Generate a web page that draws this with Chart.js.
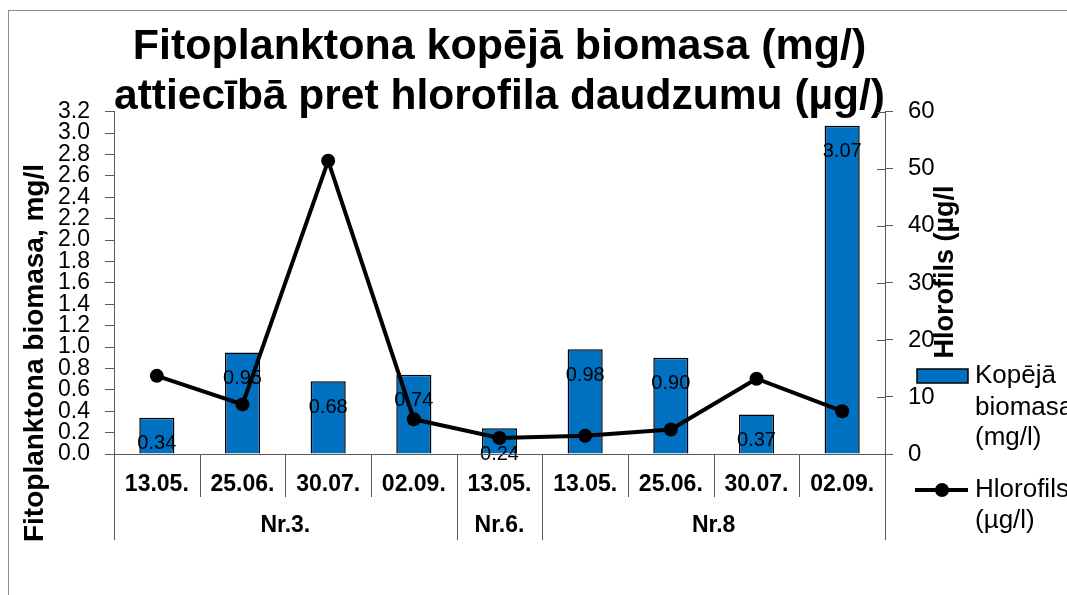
<!DOCTYPE html>
<html><head><meta charset="utf-8">
<script src="https://cdn.jsdelivr.net/npm/chart.js@4/dist/chart.umd.min.js"></script>
<style>html,body{margin:0;padding:0;background:#fff;overflow:hidden}#wrap{width:1067px;height:595px;position:relative}</style>
</head><body><div id="wrap"><canvas id="c"></canvas></div>
<script>
// ---- data ----
const dates = ['13.05.','25.06.','30.07.','02.09.','13.05.','13.05.','25.06.','30.07.','02.09.'];
const groups = ['Nr.3.','Nr.6.','Nr.8'];
const groupSizes = [4, 1, 4];
const biomass = [0.34, 0.95, 0.68, 0.74, 0.24, 0.98, 0.90, 0.37, 3.07];
const chlorophyll = [13.7, 8.7, 51.4, 6.1, 2.8, 3.2, 4.3, 13.2, 7.5];
const biomassLegend = ['Kopējā', 'biomasa', '(mg/l)'];
const chlLegend = ['Hlorofils', '(µg/l)'];
const titleLines = ['Fitoplanktona kopējā biomasa (mg/)', 'attiecībā pret hlorofila daudzumu (µg/)'];
const yLeftTitle = 'Fitoplanktona biomasa, mg/l';
const yRightTitle = 'Hlorofils (µg/l';

const FONT = "'Liberation Sans', Arial, sans-serif";
const BLUE = '#0070C0';
const AXIS = '#595959';

const decor = {
  id: 'decor',
  beforeDraw(chart) {
    const c = chart.ctx;
    c.save();
    c.fillStyle = '#fff';
    c.fillRect(0, 0, chart.width, chart.height);
    c.strokeStyle = '#8c8c8c';
    c.lineWidth = 1;
    c.strokeRect(8.5, 10.5, 1200, 700);
    c.restore();
  },
  afterDatasetDraw(chart, args) {
    if (args.index !== 1) return;
    const c = chart.ctx;
    const meta = chart.getDatasetMeta(1);
    c.save();
    c.font = '20px ' + FONT;
    c.fillStyle = '#000';
    c.textAlign = 'center';
    c.textBaseline = 'middle';
    meta.data.forEach((bar, i) => {
      c.fillText(biomass[i].toFixed(2), bar.x, bar.y + 26);
    });
    c.restore();
  },
  afterDraw(chart) {
    const c = chart.ctx;
    const x = chart.scales.x;
    const yL = chart.scales.y;
    const yR = chart.scales.y1;
    const base = yL.getPixelForValue(0);
    c.save();
    c.strokeStyle = AXIS;
    c.lineWidth = 1;
    // x baseline
    c.beginPath();
    c.moveTo(x.left - 8, Math.round(base) + 0.5);
    c.lineTo(x.right + 8, Math.round(base) + 0.5);
    c.stroke();
    // category separators
    const n = dates.length;
    const groupEdges = [0];
    groupSizes.reduce((a, s) => { groupEdges.push(a + s); return a + s; }, 0);
    for (let i = 0; i <= n; i++) {
      const px = Math.round(x.getPixelForValue(i - 0.5)) + 0.5;
      const isGroup = groupEdges.includes(i);
      c.beginPath();
      c.moveTo(px, base);
      c.lineTo(px, isGroup ? 540 : 497);
      c.stroke();
    }
    // right axis inner ticks
    yR.ticks.forEach(t => {
      const py = Math.round(yR.getPixelForValue(t.value)) + 0.5;
      c.beginPath();
      c.moveTo(yR.left - 8, py);
      c.lineTo(yR.left, py);
      c.stroke();
    });
    // group labels
    c.fillStyle = '#000';
    c.font = 'bold 23px ' + FONT;
    c.textAlign = 'center';
    c.textBaseline = 'middle';
    let start = 0;
    groups.forEach((g, gi) => {
      const a = x.getPixelForValue(start - 0.5);
      const b = x.getPixelForValue(start + groupSizes[gi] - 0.5);
      c.fillText(g, (a + b) / 2, 526);
      start += groupSizes[gi];
    });
    // axis titles
    c.save();
    c.font = 'bold 28px ' + FONT;
    c.translate(35, 353);
    c.rotate(-Math.PI / 2);
    c.fillText(yLeftTitle, 0, 0);
    c.restore();
    c.save();
    c.font = 'bold 27px ' + FONT;
    c.translate(946, 272);
    c.rotate(-Math.PI / 2);
    c.fillText(yRightTitle, 0, 0);
    c.restore();
    // legend
    c.fillStyle = BLUE;
    c.fillRect(917, 369, 51, 14);
    c.strokeStyle = '#000';
    c.lineWidth = 1.5;
    c.strokeRect(917, 369, 51, 14);
    c.font = '26px ' + FONT;
    c.fillStyle = '#000';
    c.textAlign = 'left';
    [376, 408, 438].forEach((yy, i) => c.fillText(biomassLegend[i], 975, yy));
    c.lineWidth = 4;
    c.beginPath();
    c.moveTo(915, 490);
    c.lineTo(968, 490);
    c.stroke();
    c.beginPath();
    c.arc(942, 490, 7, 0, Math.PI * 2);
    c.fill();
    [490, 521].forEach((yy, i) => c.fillText(chlLegend[i], 975, yy));
    c.restore();
  }
};

new Chart(document.getElementById('c'), {
  type: 'bar',
  data: {
    labels: dates,
    datasets: [
      {
        type: 'line',
        label: 'Hlorofils (µg/l)',
        data: chlorophyll,
        yAxisID: 'y1',
        borderColor: '#000',
        backgroundColor: '#000',
        borderWidth: 4,
        pointRadius: 7,
        pointBackgroundColor: '#000',
        pointBorderWidth: 0,
        tension: 0,
        order: 0
      },
      {
        type: 'bar',
        label: 'Kopējā biomasa (mg/l)',
        data: biomass,
        yAxisID: 'y',
        backgroundColor: BLUE,
        borderColor: '#000',
        borderWidth: 1.5,
        barPercentage: 0.41,
        categoryPercentage: 1,
        order: 1
      }
    ]
  },
  options: {
    responsive: true,
    maintainAspectRatio: false,
    animation: false,
    layout: { padding: { top: 0, left: 0, right: 0, bottom: 0 } },
    plugins: {
      legend: { display: false },
      tooltip: { enabled: false },
      title: {
        display: true,
        fullSize: false,
        text: titleLines,
        color: '#000',
        font: { family: FONT, size: 43, weight: 'bold', lineHeight: 1.16 },
        padding: { top: 22, bottom: -10 }
      }
    },
    scales: {
      x: {
        offset: true,
        grid: { display: false },
        border: { display: false },
        ticks: { color: '#000', font: { family: FONT, size: 23, weight: 'bold' }, padding: 9, maxRotation: 0, autoSkip: false },
        afterFit(s) { s.height = 141; }
      },
      y: {
        position: 'left',
        min: 0, max: 3.2,
        ticks: { stepSize: 0.2, autoSkip: false, color: '#000', font: { family: FONT, size: 23, lineHeight: 0.9 }, padding: 15,
                 callback: v => Number(v).toFixed(1) },
        grid: { drawOnChartArea: false, tickLength: 9, color: AXIS },
        border: { display: true, color: AXIS },
        afterFit(s) { s.width = 114; }
      },
      y1: {
        position: 'right',
        min: 0, max: 60,
        ticks: { stepSize: 10, autoSkip: false, color: '#000', font: { family: FONT, size: 24 }, padding: 15 },
        grid: { drawOnChartArea: false, tickLength: 8, color: AXIS },
        border: { display: true, color: AXIS },
        afterFit(s) { s.width = 182; }
      }
    }
  },
  plugins: [decor]
});
</script>
</body></html>
